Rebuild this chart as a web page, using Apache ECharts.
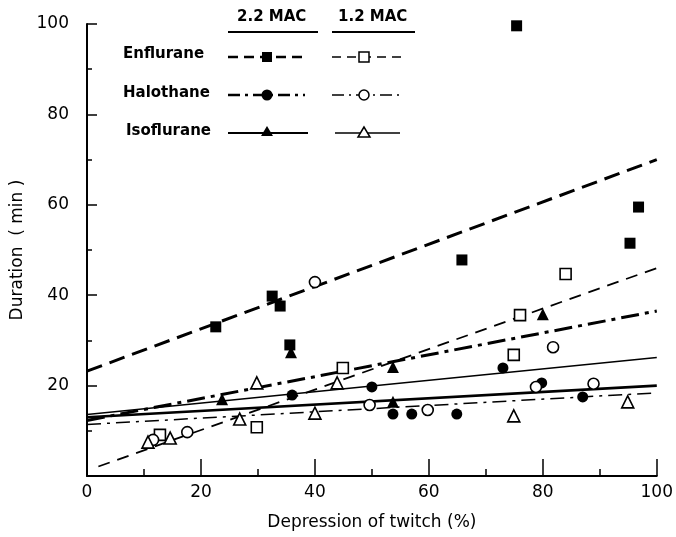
<!DOCTYPE html>
<html><head><meta charset="utf-8">
<script src="https://cdn.jsdelivr.net/npm/echarts@6/dist/echarts.min.js"></script>
<style>html,body{margin:0;padding:0;background:#fff}#c{width:676px;height:537px}</style>
</head><body><div id="c"></div>
<script>
// Data: [depression of twitch %, duration min]
const enf22 = [[22.6,33],[32.5,39.8],[33.9,37.6],[35.6,29],[65.8,47.8],[75.4,99.6],[95.3,51.5],[96.8,59.5]];
const enf12 = [[12.8,9.1],[29.8,10.8],[44.9,23.9],[76.0,35.6],[74.9,26.8],[84.0,44.7]];
const hal22 = [[36.0,17.9],[50.0,19.7],[53.7,13.7],[57.0,13.7],[64.9,13.7],[73.0,23.9],[79.8,20.6],[87.0,17.5]];
const hal12 = [[11.6,8.0],[17.6,9.7],[40.0,42.9],[49.6,15.7],[59.8,14.6],[78.8,19.7],[81.8,28.5],[88.9,20.4]];
const iso22 = [[23.7,17.0],[35.8,27.4],[53.7,24.1],[53.7,16.4],[80.0,35.8]];
const iso12 = [[10.7,7.5],[14.6,8.4],[26.8,12.6],[29.8,20.6],[40.0,13.9],[43.9,20.6],[74.9,13.3],[94.9,16.4]];
// regression lines (end points)
const fitEnf22 = [[0,23.2],[100,70]];
const fitEnf12 = [[2,2.1],[100,46]];
const fitHal22 = [[0,12.3],[100,36.5]];
const fitHal12 = [[0,11.4],[100,18.4]];
const fitIso22 = [[0,13.6],[100,26.2]];
const fitIso12 = [[0,13.0],[100,20.0]];
const xTicks = [0,20,40,60,80,100];
const yTicks = [20,40,60,80,100];

const F = 'DejaVu Sans';
function scat(data, symbol, filled){
  return {type:'scatter', data, symbol, symbolSize: symbol==='triangle'?12:11, z:5,
    itemStyle:{color: filled?'#000':'#fff', opacity:1, borderColor:'#000', borderWidth: filled?0:1.6}};
}
function fit(data, width, dash){
  return {type:'line', data, showSymbol:false, symbol:'none', z:3, silent:true,
    lineStyle:{color:'#000', width, type: dash||'solid'}};
}
const chart = echarts.init(document.getElementById('c'));
// legend graphics
const g = [];
function txt(x,y,s){ g.push({type:'text', left:x, top:y, style:{text:s, font:'bold 15px '+F, fill:'#000'}}); }
function seg(x1,x2,y,w,dash){ g.push({type:'line', shape:{x1,y1:y,x2,y2:y}, style:{stroke:'#000', lineWidth:w, lineDash:dash}}); }
txt(237,10,'2.2 MAC'); txt(338,10,'1.2 MAC');
seg(228,318,32,2); seg(332,415,32,2);
txt(123,47,'Enflurane'); txt(123,86,'Halothane'); txt(126,124,'Isoflurane');
// enflurane
seg(228,308,57,2.5,[10,6]); g.push({type:'rect', shape:{x:262,y:52,width:10,height:10}, style:{fill:'#000'}});
seg(332,404,57,1.6,[9,6]); g.push({type:'rect', shape:{x:359,y:52,width:10,height:10}, style:{fill:'#fff',stroke:'#000',lineWidth:1.5}});
// halothane
seg(228,305,95,2.5,[12,5,3,5]); g.push({type:'circle', shape:{cx:267,cy:95,r:5.5}, style:{fill:'#000'}});
seg(332,400,95,1.6,[12,5,2,5]); g.push({type:'circle', shape:{cx:364,cy:95,r:5}, style:{fill:'#fff',stroke:'#000',lineWidth:1.5}});
// isoflurane
seg(228,308,133,2.2); g.push({type:'polygon', shape:{points:[[267,126],[261,136],[273,136]]}, style:{fill:'#000'}});
seg(335,400,133,1.5); g.push({type:'polygon', shape:{points:[[364,127],[358,137],[370,137]]}, style:{fill:'#fff',stroke:'#000',lineWidth:1.5}});

chart.setOption({
  animation:false,
  backgroundColor:'#fff',
  grid:{left:87, right:19, top:24, bottom:61},
  graphic:g,
  xAxis:{type:'value', min:0, max:100, interval:20,
    name:'Depression of twitch (%)', nameLocation:'middle', nameGap:38,
    nameTextStyle:{fontFamily:F, fontSize:17, color:'#000'},
    axisLine:{lineStyle:{color:'#000', width:2}},
    axisTick:{inside:true, length:17, lineStyle:{color:'#000', width:1.5}},
    minorTick:{show:true, splitNumber:2, length:7, lineStyle:{color:'#000', width:1.5}},
    axisLabel:{fontFamily:F, fontSize:17, color:'#000', margin:8},
    splitLine:{show:false}},
  yAxis:{type:'value', min:0, max:100, interval:20,
    name:'Duration  ( min )', nameLocation:'middle', nameGap:47,
    nameTextStyle:{fontFamily:F, fontSize:17, color:'#000'},
    axisLine:{show:true, lineStyle:{color:'#000', width:2}},
    axisTick:{show:true, inside:true, length:10, lineStyle:{color:'#000', width:1.5}},
    minorTick:{show:true, splitNumber:2, length:5, lineStyle:{color:'#000', width:1.5}},
    axisLabel:{fontFamily:F, fontSize:17, color:'#000', margin:18, formatter:v=>v===0?'':v},
    splitLine:{show:false}},
  series:[
    fit(fitEnf22,3,[16,8]),
    fit(fitEnf12,1.8,[12,8]),
    fit(fitHal22,3,[18,6,4,6]),
    fit(fitHal12,1.5,[14,6,3,6]),
    fit(fitIso22,1.5),
    fit(fitIso12,2.6),
    scat(enf22,'rect',true), scat(enf12,'rect',false),
    scat(hal22,'circle',true), scat(hal12,'circle',false),
    scat(iso22,'triangle',true), scat(iso12,'triangle',false)
  ]
});
</script></body></html>
